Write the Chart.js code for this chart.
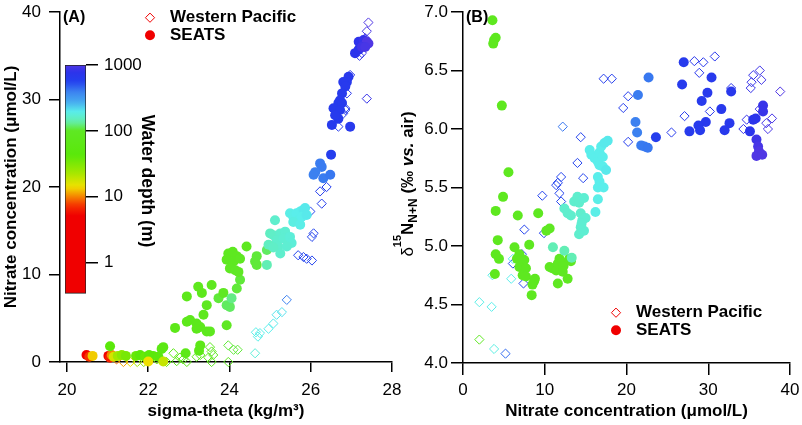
<!DOCTYPE html>
<html><head><meta charset="utf-8">
<script src="https://cdn.jsdelivr.net/npm/chart.js@4/dist/chart.umd.min.js"></script>
<style>
html,body{margin:0;padding:0;background:#fff;}
body{width:802px;height:425px;position:relative;overflow:hidden;}
canvas{position:absolute;}
#ca{left:0;top:0;}
#cb{left:385px;top:0;}
#cc{left:50px;top:50px;}
</style></head><body>
<canvas id="ca" width="410" height="425"></canvas>
<canvas id="cb" width="417" height="425"></canvas>
<canvas id="cc" width="110" height="260"></canvas>
<script>
// ---------------- DATA ----------------
// Panel A: SEATS (filled circles)
const A_SEATS_SIGMA = [20.48,20.55,20.63,21.02,21.06,21.10,21.15,21.25,21.35,21.06,21.45,21.70,21.80,21.92,22.02,22.12,22.25,22.37,22.00,22.37,22.33,22.92,23.28,23.25,
 22.66,22.95,23.03,23.19,23.28,23.19,23.36,23.44,23.52,23.93,22.95,23.23,23.32,23.56,23.44,23.73,23.85,23.93,24.01,24.05,24.18,24.26,23.97,24.08,24.18,23.93,24.10,24.26,24.01,24.14,24.22,24.42,24.67,24.63,24.67,24.92,24.92,
 25.12,25.00,25.08,25.25,25.37,25.16,25.33,25.49,25.53,25.20,25.25,24.96,25.08,25.41,
 25.49,25.57,25.65,25.74,25.82,25.86,25.69,25.57,25.74,25.78,25.90,
 26.50,26.23,26.27,26.11,26.07,26.31,26.48,
 26.93,26.89,26.80,26.85,26.77,26.72,26.68,26.77,26.56,26.72,26.68,26.52,26.97,26.60,
 27.09,27.18,27.18,27.30,27.38,27.42,27.26,27.34];
const A_SEATS_NO3 = [0.8,0.6,0.7,0.7,0.5,0.8,0.6,0.7,0.8,1.8,0.7,0.7,0.8,0.6,0.8,0.7,0.6,0.05,0.05,1.7,1.5,1.0,1.9,1.3,
 3.9,4.6,4.8,4.4,4.0,3.8,5.4,3.5,3.5,4.2,7.5,8.6,7.9,8.8,6.5,7.3,7.9,6.5,6.3,7.3,8.4,9.4,12.4,12.6,12.1,11.7,11.5,11.8,10.7,10.5,10.3,13.2,12.1,11.5,11.1,12.8,11.1,
 16.2,14.7,14.5,14.7,14.9,13.9,14.1,14.3,13.6,13.2,12.4,13.4,13.1,13.2,
 17.0,16.6,17.0,17.2,17.4,17.6,16.2,16.0,15.7,16.6,16.8,
 23.7,22.7,22.3,21.7,21.4,21.0,21.4,
 32.6,32.0,32.0,31.5,30.7,29.9,29.6,29.6,29.0,28.8,27.8,27.1,26.9,28.2,
 35.3,35.7,36.6,36.8,36.6,36.4,36.0,36.0];
const A_SEATS_DEPTH = [4,8,14,3,7,11,18,25,30,45,35,40,45,40,50,45,50,20,15,60,60,70,70,70,
 75,80,80,80,85,80,85,85,90,100,80,85,85,90,90,110,100,120,120,130,110,110,95,95,95,95,95,100,100,105,105,95,110,110,110,120,150,
 170,160,165,170,175,170,175,180,180,170,170,160,165,175,
 195,195,200,200,205,205,195,190,195,200,205,
 600,410,410,400,400,410,420,
 680,660,660,660,650,650,650,650,640,650,640,640,660,640,
 750,780,800,850,1000,1000,900,950];
// Panel A: Western Pacific (open diamonds)
const A_WP_SIGMA = [27.42,27.38,27.34,27.26,27.20,27.38,26.97,26.89,26.85,26.80,26.85,26.68,26.39,26.23,26.27,25.99,26.07,26.03,25.69,25.82,25.90,26.03,25.41,25.29,25.16,25.08,24.96,24.75,24.70,24.65,24.63,23.97,24.10,24.20,23.52,23.56,23.48,23.60,23.56,23.19,23.28,22.86,22.78,22.62,22.70,22.95,22.45,22.29,22.21,21.89,21.73,21.56,21.39,21.22,23.97];
const A_WP_NO3 = [38.8,37.8,37.0,35.3,35.0,30.1,32.8,30.7,29.0,28.4,28.8,26.9,20.0,19.5,18.1,17.2,14.7,14.3,12.2,12.0,11.8,11.6,7.1,5.7,5.4,4.4,3.8,3.3,2.9,3.4,1.0,1.9,1.4,1.4,1.7,1.2,0.5,0.8,0.0,0.6,0.8,0.3,0.5,1.0,0.1,0.0,0.0,0.4,0.3,0.0,0.0,0.0,0.0,0.3,0.0];
const A_WP_DEPTH = [1000,950,900,850,800,850,700,700,650,650,650,650,600,600,600,580,550,550,550,550,550,550,400,215,210,205,200,200,195,195,180,110,110,110,90,90,90,90,85,80,80,70,70,65,65,70,50,45,40,30,25,15,12,10,100];
// Panel B: SEATS
const B_SEATS_NO3 = [3.6,4.0,3.8,3.7,4.75,5.56,4.9,4.0,4.25,4.0,4.4,3.9,6.7,9.2,10.6,10.2,8.1,6.3,6.9,6.6,7.5,6.9,7.7,7.3,7.7,8.7,8.8,8.5,8.4,10.6,10.9,11.8,11.4,11.6,12.1,12.3,12.2,13.0,13.2,11.6,12.8,
 11.0,12.4,13.3,
 12.4,12.8,13.2,13.6,14.0,14.2,14.8,14.4,14.6,15.0,14.4,14.2,14.8,14.5,
 15.5,15.7,16.1,16.5,16.7,16.9,17.3,17.7,17.1,16.7,17.1,17.5,16.5,16.7,16.5,17.2,16.5,16.2,
 22.7,21.4,21.1,21.3,21.8,22.2,22.6,23.6,
 27.0,26.8,30.4,29.9,29.2,31.6,29.7,28.8,29.0,27.7,32.6,32.0,32.8,35.5,35.8,35.1,36.7,36.7,35.9,36.1,36.2,35.9,36.6];
const B_SEATS_D15N = [6.93,6.78,6.76,6.73,6.20,5.63,5.42,5.30,5.05,4.93,4.89,4.76,5.26,5.28,5.15,5.13,5.01,4.99,4.93,4.89,4.88,4.82,4.81,4.75,4.74,4.70,4.72,4.67,4.58,4.82,4.81,4.89,4.79,4.85,4.86,4.83,4.78,4.89,4.87,4.68,4.72,
 4.99,4.96,4.90,
 5.32,5.28,5.26,5.38,5.42,5.37,5.41,5.28,5.22,5.24,5.16,5.10,5.13,5.19,
 5.82,5.78,5.75,5.72,5.80,5.85,5.88,5.90,5.76,5.69,5.68,5.65,5.59,5.55,5.50,5.50,5.40,5.29,
 6.44,6.29,6.06,5.97,5.86,5.85,5.84,5.93,
 6.57,6.38,6.44,6.31,6.24,6.17,6.06,6.03,5.99,5.98,6.05,5.99,6.32,6.08,6.09,5.98,6.20,6.15,5.91,5.85,5.81,5.77,5.78];
const B_SEATS_DEPTH = [90,90,90,90,90,90,90,90,90,90,90,90,95,95,100,100,95,95,95,95,95,95,95,95,95,95,95,95,95,100,100,100,100,100,100,100,100,100,100,100,100,
 150,150,150,
 170,170,170,170,170,170,175,170,175,175,170,170,175,175,
 200,200,200,200,200,200,205,205,200,200,200,205,200,200,200,200,195,195,
 420,410,400,400,410,415,420,600,
 640,640,660,660,650,670,660,650,650,640,680,670,690,750,750,740,850,850,900,950,1000,1000,1000];
// Panel B: Western Pacific
const B_WP_NO3 = [17.2,18.2,20.2,19.6,20.2,25.5,27.1,28.3,29.4,30.8,28.9,30.2,32.8,35.5,36.3,35.3,36.5,35.2,38.8,36.3,34.7,34.3,37.8,37.1,37.3,
 14.4,14.0,14.7,12.0,11.6,11.4,11.8,12.0,9.7,7.5,9.9,7.2,6.1,7.4,12.2,
 5.9,3.6,2.0,3.5,3.8,5.2,2.0,6.1];
const B_WP_D15N = [6.43,6.43,6.28,6.18,5.89,5.97,6.11,6.58,6.57,6.62,6.48,6.15,6.35,6.46,6.50,6.40,6.42,6.35,6.32,6.17,6.08,6.00,6.09,6.05,6.00,
 5.93,5.71,5.58,5.59,5.54,5.52,5.45,5.38,5.43,5.14,5.11,4.93,4.85,4.68,6.02,
 4.72,4.75,4.52,4.48,4.12,4.08,4.20,4.89];
const B_WP_DEPTH = [600,600,600,600,600,650,650,700,700,700,700,700,750,850,900,850,900,850,1000,900,850,850,950,950,950,
 550,550,550,550,550,550,550,550,550,550,550,550,550,550,420,
 200,195,195,200,190,450,100,200];
// Ticks
const A_X_TICKS = [20,22,24,26,28];
const A_Y_TICKS = [0,10,20,30,40];
const B_X_TICKS = [0,10,20,30,40];
const B_Y_TICKS = [4.0,4.5,5.0,5.5,6.0,6.5,7.0];
const CBAR_TICKS = [1,10,100,1000];
const CBAR_MIN = 0.34, CBAR_MAX = 1000;

// ---------------- STYLE ----------------
const FONT = "'Liberation Sans', Arial, Helvetica, sans-serif";
Chart.defaults.font.family = FONT;
Chart.defaults.color = '#000';
const STOPS = [[-0.47,[240,0,0]],[0.75,[240,0,0]],[0.9,[245,50,0]],[1.03,[245,130,0]],[1.18,[240,225,0]],[1.4,[160,232,0]],[1.65,[90,232,10]],[2.02,[95,232,35]],[2.15,[100,238,170]],[2.3,[90,238,235]],[2.45,[70,170,240]],[2.6,[60,130,240]],[2.75,[35,65,238]],[2.9,[45,50,235]],[3.0,[80,55,228]]];
function colAt(l){
  if(l<=STOPS[0][0]) return STOPS[0][1];
  for(let i=1;i<STOPS.length;i++){
    if(l<=STOPS[i][0]){const a=STOPS[i-1],b=STOPS[i];const t=(l-a[0])/(b[0]-a[0]);
      return a[1].map((v,k)=>Math.round(v+(b[1][k]-v)*t));}
  }
  return STOPS[STOPS.length-1][1];
}
function depthColor(d){const c=colAt(Math.log10(d));return `rgb(${c[0]},${c[1]},${c[2]})`;}
function pts(xs,ys){return xs.map((x,i)=>({x:x,y:ys[i]}));}
function seatsDs(xs,ys,ds){return {label:'SEATS',data:pts(xs,ys),pointStyle:'circle',pointRadius:5,pointHoverRadius:5,
  pointBackgroundColor:ds.map(depthColor),pointBorderWidth:0,showLine:false,clip:false};}
function wpDs(xs,ys,ds){return {label:'Western Pacific',data:pts(xs,ys),pointStyle:'rectRot',pointRadius:4.6,pointHoverRadius:4.6,
  pointBackgroundColor:'rgba(0,0,0,0)',pointBorderColor:ds.map(depthColor),pointBorderWidth:1,showLine:false,clip:false};}
function axis(min,max,ticks,tl,pad,size,title,titlePad,cb){
  return {type:'linear',min:min,max:max,
    afterBuildTicks:s=>{s.ticks=ticks.map(v=>({value:v}));},
    afterFit:s=>{ if(s.isHorizontal()){s.height=size;} else {s.width=size;}
      s.paddingTop=0;s.paddingBottom=0;s.paddingLeft=0;s.paddingRight=0;},
    grid:{drawOnChartArea:false,drawTicks:true,tickLength:tl,color:'#000',lineWidth:1.5},
    border:{display:true,color:'#000',width:1.5},
    ticks:{font:{size:17},color:'#000',padding:pad,maxRotation:0,autoSkip:false,callback:cb||(v=>String(v))},
    title:{display:!!title,text:title||'',font:{size:17,weight:'bold'},color:'#000',padding:titlePad}};
}
function legend(ctx,x,y){
  ctx.save();
  ctx.strokeStyle='rgb(240,0,0)';ctx.lineWidth=1;
  ctx.beginPath();ctx.moveTo(x-4.6,y);ctx.lineTo(x,y-4.6);ctx.lineTo(x+4.6,y);ctx.lineTo(x,y+4.6);ctx.closePath();ctx.stroke();
  ctx.fillStyle='rgb(240,0,0)';ctx.beginPath();ctx.arc(x,y+17.5,5,0,Math.PI*2);ctx.fill();
  ctx.fillStyle='#000';ctx.font="bold 17px "+FONT;ctx.textBaseline='middle';ctx.textAlign='left';
  ctx.fillText('Western Pacific',x+20,y);ctx.fillText('SEATS',x+20,y+17.5);
  ctx.restore();
}
const common = {responsive:false,animation:false,devicePixelRatio:1,
  plugins:{legend:{display:false},tooltip:{enabled:false}},events:[]};

// ---------------- PANEL A ----------------
new Chart(document.getElementById('ca'),{
  type:'scatter',
  data:{datasets:[seatsDs(A_SEATS_SIGMA,A_SEATS_NO3,A_SEATS_DEPTH),wpDs(A_WP_SIGMA,A_WP_NO3,A_WP_DEPTH)]},
  options:Object.assign({},common,{
    layout:{padding:{left:0,top:12,right:18,bottom:0}},
    scales:{
      x:axis(19.828,28,A_X_TICKS,10,8,63,'sigma-theta (kg/m³)',{top:0,bottom:3}),
      y:axis(0,40,A_Y_TICKS,11,8,60,'Nitrate concentration (μmol/L)',{top:1,bottom:0})
    }
  }),
  plugins:[{id:'annA',afterDraw(c){const ctx=c.ctx;legend(ctx,150,17.7);
    ctx.save();ctx.font="bold 16px "+FONT;ctx.fillStyle='#000';ctx.textBaseline='middle';ctx.fillText('(A)',63,18);ctx.restore();}}]
});

// ---------------- PANEL B ----------------
function deltaTitle(ctx,cx,cy){
  const parts=[{t:'δ',f:'17px',dy:0},{t:'15',f:'bold 11px',dy:-12},{t:'N',f:'bold 17px',dy:0},{t:'N+N',f:'bold 12px',dy:4},
    {t:' (‰ ',f:'bold 17px',dy:0},{t:'vs.',f:'italic bold 17px',dy:0},{t:' air)',f:'bold 17px',dy:0}];
  ctx.save();ctx.translate(cx,cy);ctx.rotate(-Math.PI/2);ctx.fillStyle='#000';ctx.textBaseline='alphabetic';ctx.textAlign='left';
  let w=0;parts.forEach(p=>{ctx.font=p.f+' '+FONT;p.w=ctx.measureText(p.t).width;w+=p.w;});
  let x=-w/2;parts.forEach(p=>{ctx.font=p.f+' '+FONT;ctx.fillText(p.t,x,p.dy);x+=p.w;});
  ctx.restore();
}
new Chart(document.getElementById('cb'),{
  type:'scatter',
  data:{datasets:[seatsDs(B_SEATS_NO3,B_SEATS_D15N,B_SEATS_DEPTH),wpDs(B_WP_NO3,B_WP_D15N,B_WP_DEPTH)]},
  options:Object.assign({},common,{
    layout:{padding:{left:0,top:12,right:12,bottom:0}},
    scales:{
      x:axis(0,40,B_X_TICKS,12,5,62,'Nitrate concentration (μmol/L)',{top:0,bottom:3}),
      y:axis(4,7,B_Y_TICKS,12,3,78,null,{top:0,bottom:0},v=>Number(v).toFixed(1))
    }
  }),
  plugins:[{id:'annB',afterDraw(c){const ctx=c.ctx;legend(ctx,231,312.7);
    ctx.save();ctx.font="bold 16px "+FONT;ctx.fillStyle='#000';ctx.textBaseline='middle';ctx.fillText('(B)',81,18);ctx.restore();
    deltaTitle(ctx,28,184);}}]
});

// ---------------- COLOR BAR ----------------
new Chart(document.getElementById('cc'),{
  type:'bar',
  data:{labels:['depth'],datasets:[{data:[[CBAR_MIN,CBAR_MAX]],
    backgroundColor:(c)=>{const ca=c.chart.chartArea;if(!ca)return 'red';
      const g=c.chart.ctx.createLinearGradient(0,ca.bottom,0,ca.top);
      const l0=Math.log10(CBAR_MIN),l1=Math.log10(CBAR_MAX);
      for(let i=0;i<=60;i++){const l=l0+(l1-l0)*i/60;const cc=colAt(l);g.addColorStop(i/60,`rgb(${cc[0]},${cc[1]},${cc[2]})`);}
      return g;},
    borderColor:'#222',borderWidth:1,borderSkipped:false,barPercentage:1,categoryPercentage:1}]},
  options:Object.assign({},common,{
    layout:{padding:{left:15,top:15,right:0,bottom:13}},
    scales:{
      x:{display:false},
      y:{type:'logarithmic',position:'right',min:CBAR_MIN,max:CBAR_MAX,
        afterBuildTicks:s=>{s.ticks=CBAR_TICKS.map(v=>({value:v}));},
        afterFit:s=>{s.width=74;s.paddingTop=0;s.paddingBottom=0;},
        grid:{drawOnChartArea:false,drawTicks:true,tickLength:12,color:'#000',lineWidth:1.5},
        border:{display:false},
        ticks:{font:{size:17},color:'#000',padding:6,autoSkip:false,callback:v=>String(v)},
        title:{display:true,text:'Water depth (m)',font:{size:17.5,weight:'bold'},color:'#000',padding:{top:3,bottom:0}}}
    }
  })
});
</script>
</body></html>
